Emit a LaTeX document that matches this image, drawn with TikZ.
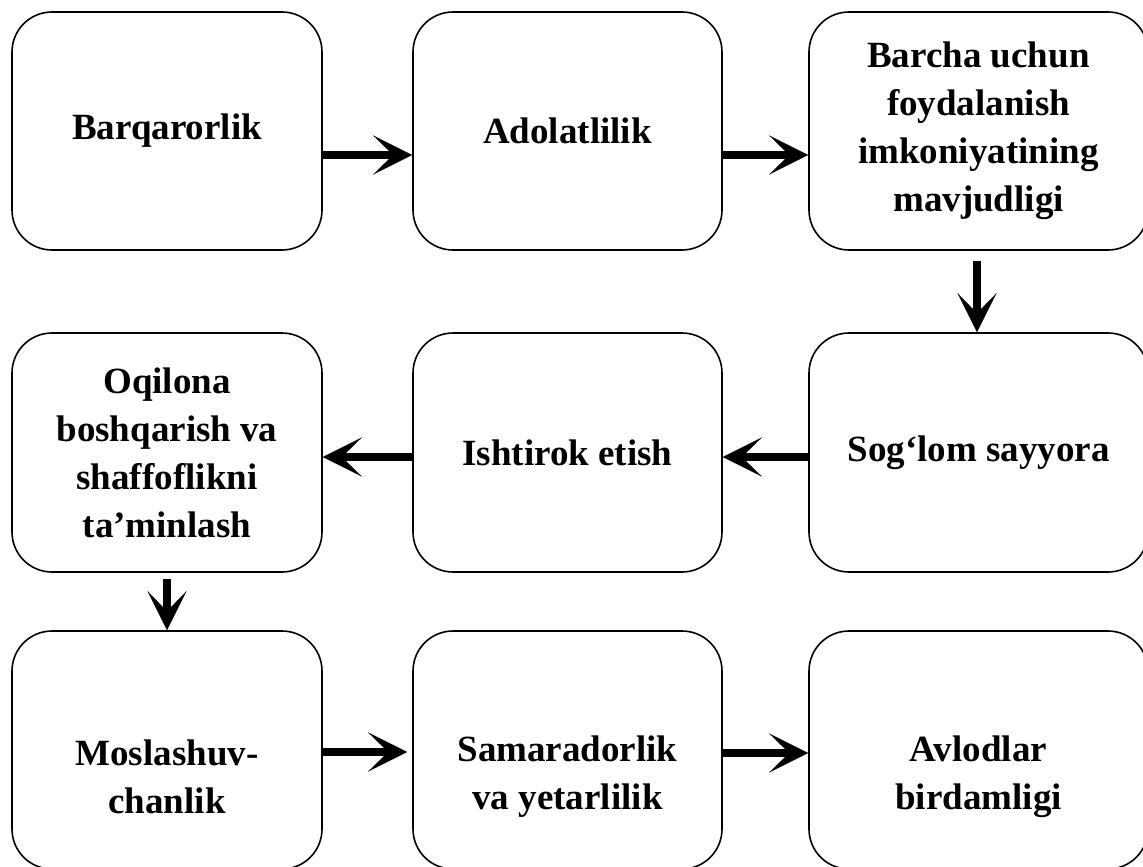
\documentclass[tikz,border=0pt]{standalone}
\usepackage{fontspec}
\setmainfont{Liberation Serif}
\usetikzlibrary{arrows.meta,calc}
\begin{document}
\begin{tikzpicture}[x=1pt,y=-1pt,
  box/.style={draw, line width=1.6pt, rounded corners=40pt, minimum width=310pt,
    minimum height=238pt, align=center, inner sep=0pt,
    font=\bfseries\fontsize{37}{48}\selectfont},
  wide/.style={minimum width=339pt},
  lbl/.style={align=center, inner sep=0pt, font=\bfseries\fontsize{37}{48}\selectfont},
  arr/.style={line width=7.5pt, -{Stealth[length=39pt,width=39pt,inset=20pt,line width=0.01pt]}}]
\useasboundingbox[fill=white] (0,0) rectangle (1143,867);
% row 1
\node[box] (b1) at (167,131) {Barqarorlik};
\node[box, minimum width=309pt] (b2) at (567.5,131) {Adolatlilik};
\node[box, wide] (b3) at (978.5,131) {Barcha uchun\\foydalanish\\imkoniyatining\\mavjudligi};
% row 2
\node[box, minimum height=239pt] (b4) at (167,452.5) {Oqilona\\boshqarish va\\shaffoflikni\\ta’minlash};
\node[box, minimum width=309pt, minimum height=239pt] (b5) at (567.5,452.5) {Ishtirok etish};
\node[box, wide, minimum height=239pt] (b6) at (978.5,452.5) {Sog‘lom sayyora};
% row 3
\node[box, label={[lbl,yshift=-27pt]center:Moslashuv-\\chanlik}] (b7) at (167,750) {};
\node[box, minimum width=309pt, label={[lbl,yshift=-27pt]center:Samaradorlik\\va yetarlilik}] (b8) at (567.5,750) {};
\node[box, wide, label={[lbl,yshift=-27pt]center:Avlodlar\\birdamligi}] (b9) at (978.5,750) {};
% connectors
\draw[arr] ([yshift=-24pt]b1.east) -- ([yshift=-24pt]b2.west);
\draw[arr] ([yshift=-24pt]b2.east) -- ([yshift=-24pt]b3.west);
\draw[arr, shorten <=10pt] ([xshift=-1.5pt]b3.south) -- ([xshift=-1.5pt]b6.north);
\draw[arr] ([yshift=-4.5pt]b6.west) -- ([yshift=-4.5pt]b5.east);
\draw[arr] ([yshift=-4.5pt]b5.west) -- ([yshift=-4.5pt]b4.east);
\draw[arr, shorten <=6pt] (b4.south) -- (b7.north);
\draw[arr, shorten >=5pt] ([yshift=-2pt]b7.east) -- ([yshift=-2pt]b8.west);
\draw[arr] ([yshift=-3pt]b8.east) -- ([yshift=-3pt]b9.west);
\end{tikzpicture}
\end{document}
